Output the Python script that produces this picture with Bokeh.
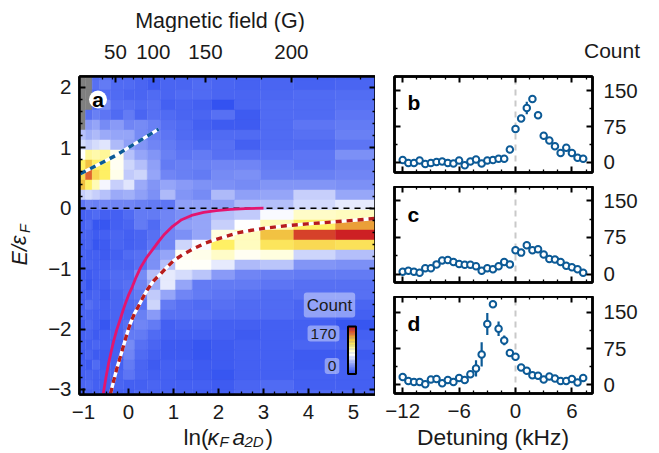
from bokeh.plotting import figure
from bokeh.layouts import row, column
from bokeh.models import (LinearAxis, FixedTicker, LinearColorMapper, Label, ColumnDataSource, Range1d)
from bokeh.transform import transform
from bokeh.embed import file_html
from bokeh.resources import INLINE

N = float("nan")
FONT = "Liberation Sans"

# ---- panel a: heat-map ----
x_edges = [-1.09, -0.956, -0.807, -0.638, -0.4, -0.104, 0.133, 0.416, 0.711, 1.044,
           1.416, 1.844, 2.362, 2.933, 3.673, 4.6, 5.49]
y_top = 2.29
y_step = 0.1656
counts = [
 [N,N,12,14,10,10,10,8,10,10,10,10,10,10,8,8],
 [N,N,14,18,12,12,10,6,10,10,12,10,9,10,9,10],
 [N,N,10,12,12,10,10,12,10,12,12,10,10,11,12,13],
 [N,N,12,24,14,14,12,14,8,10,8,3,10,12,12,14],
 [N,14,20,16,12,18,10,14,12,10,10,14,6,12,12,16],
 [N,30,34,24,30,22,24,20,14,12,8,6,6,12,16,18],
 [45,38,42,36,34,34,24,20,16,12,10,12,12,12,14,20],
 [55,50,55,58,42,32,28,22,18,14,12,14,8,12,12,16],
 [68,95,92,95,75,45,34,28,20,16,18,14,14,14,16,26],
 [105,125,105,105,72,52,44,32,18,20,20,22,22,18,16,20],
 [115,150,115,105,75,48,52,34,22,20,18,24,26,20,20,22],
 [125,105,90,65,50,58,36,28,34,30,27,26,24,28,28,26],
 [50,55,50,45,36,38,32,26,42,28,24,42,32,34,50,35],
 [16,22,20,22,22,22,20,18,16,32,32,32,42,44,54,60],
 [8,10,12,8,8,12,18,18,22,26,34,44,48,66,85,88],
 [8,12,4,4,8,10,18,12,22,32,34,50,68,90,105,135],
 [10,10,6,8,10,8,10,14,22,26,34,78,88,125,160,170],
 [8,10,4,6,10,8,10,16,22,52,66,105,88,110,115,112],
 [10,8,8,6,8,12,14,26,34,72,75,85,72,78,52,44],
 [8,10,8,8,10,10,14,26,44,70,70,60,42,46,28,26],
 [8,6,8,10,12,12,24,44,60,55,46,30,22,20,18,18],
 [10,4,8,8,12,14,22,36,60,34,18,18,18,16,14,14],
 [8,8,10,6,10,14,18,48,34,22,18,16,14,12,14,14],
 [8,14,10,8,10,12,14,52,18,14,12,14,12,12,10,10],
 [10,10,8,8,10,10,20,30,14,14,14,12,12,12,10,8],
 [6,12,8,4,10,14,22,18,8,10,10,8,8,8,8,4],
 [8,10,6,8,10,18,18,12,8,8,8,8,6,8,8,8],
 [8,8,10,8,8,24,14,10,6,6,4,6,8,8,10,10],
 [6,10,6,6,8,22,12,8,6,6,4,6,8,8,6,6],
 [8,6,12,6,8,18,10,6,8,8,6,6,8,8,6,8],
 [8,10,8,8,10,16,10,8,8,6,6,4,8,8,8,8],
 [10,12,8,8,10,8,8,10,8,8,8,6,10,12,8,8],
 [8,10,10,8,8,8,12,10,10,10,8,8,12,14,12,12],
]
bound_x = [-0.56,-0.50,-0.44,-0.38,-0.33,-0.26,-0.18,-0.12,-0.07,0.0,0.08,0.17,0.27,0.40,0.56,0.68,0.80,0.98,1.18,1.40,1.67,1.95,2.27,2.6,3.0]
bound_y = [-3.07,-2.80,-2.56,-2.36,-2.20,-2.01,-1.83,-1.69,-1.58,-1.44,-1.31,-1.14,-0.98,-0.82,-0.66,-0.54,-0.43,-0.30,-0.19,-0.12,-0.07,-0.04,-0.02,-0.008,0.0]
pol_x = [-0.40,-0.32,-0.25,-0.17,-0.10,-0.03,0.04,0.13,0.23,0.32,0.41,0.55,0.71,0.85,1.0,1.2,1.45,1.7,1.97,2.41,2.7,3.04,3.5,3.97,4.5,5.0,5.49]
pol_y = [-3.07,-2.83,-2.63,-2.43,-2.25,-2.07,-1.91,-1.75,-1.61,-1.48,-1.36,-1.21,-1.09,-0.98,-0.87,-0.77,-0.67,-0.58,-0.51,-0.41,-0.37,-0.33,-0.29,-0.26,-0.23,-0.20,-0.17]
rep_x = [-1.07, -0.29, 0.67]
rep_y = [0.57, 0.87, 1.31]
cbar_levels = list(range(0, 171, 5))

field_labels = {-0.29: "50", 0.55: "100", 1.71: "150", 3.62: "200"}
field_minor = [-0.58, -0.36, -0.13, 0.1, 0.32, 0.8, 1.03, 1.3, 1.96, 2.4, 2.95, 4.2, 5.15]

# ---- panels b, c, d ----
detuning = [-12.0, -11.4, -10.8, -10.2, -9.6, -9.0, -8.4, -7.8, -7.2, -6.6, -6.0, -5.4, -4.8, -4.2, -3.6, -3.0, -2.4,
            -1.8, -1.2, -0.6, 0.0, 0.6, 1.2, 1.8, 2.4, 3.0, 3.6, 4.2, 4.8, 5.4, 6.0, 6.6, 7.2]
b_vals = [5,-1,-1,4,-3,-1,1,2,-1,-2,4,-6,2,6,-2,4,5,8,8,27,70,92,114,133,99,56,46,34,20,31,20,10,8]
b_errs = [2,2,2,2,2,2,2,2,2,2,2,2,2,2,2,2,2,2,2,3,3,5,13,7,3,3,2,2,2,2,2,2,2]
c_vals = [5,7,5,3,12,12,20,28,29,25,21,19,19,16,7,12,10,16,25,20,49,44,59,49,51,40,31,30,25,17,14,10,3]
c_errs = [2,2,2,2,2,2,2,2,2,2,2,2,2,2,2,2,2,2,2,2,3,3,3,3,3,2,2,2,2,2,2,2,2]
d_vals = [16,8,6,6,1,11,12,3,10,6,14,10,22,34,63,126,167,116,92,66,58,36,29,20,19,11,17,13,8,8,12,5,14]
d_errs = [2,2,2,2,2,2,2,2,2,2,2,2,3,17,25,23,5,15,10,3,3,2,2,2,2,2,2,2,2,2,2,2,2]

BLUE = "#0c5a96"

anchors = [(0.0, (43, 75, 240)), (0.40, (255, 255, 255)), (0.52, (255, 252, 190)), (0.62, (255, 240, 100)),
           (0.76, (240, 185, 60)), (0.88, (224, 100, 48)), (1.0, (205, 32, 36))]
palette = []
for i in range(256):
    t = i / 255
    for (t0, c0), (t1, c1) in zip(anchors[:-1], anchors[1:]):
        if t0 <= t <= t1:
            f = (t - t0) / (t1 - t0)
            palette.append("#%02x%02x%02x" % tuple(int(round(a + (b - a) * f)) for a, b in zip(c0, c1)))
            break
mapper = LinearColorMapper(palette=palette, low=0, high=170, nan_color="#808080")

def style_axis(ax, major=6, minor=3, size="20.5px"):
    ax.axis_line_color = "black"
    ax.axis_line_width = 2.5
    ax.major_tick_line_color = "black"
    ax.major_tick_line_width = 2
    ax.minor_tick_line_color = "black"
    ax.minor_tick_line_width = 1.3
    ax.major_tick_in = major
    ax.major_tick_out = 0
    ax.minor_tick_in = minor
    ax.minor_tick_out = 0
    ax.major_label_text_font = FONT
    ax.major_label_text_font_size = size
    ax.major_label_text_color = "#1a1a1a"

def hide_labels(ax, ticks):
    ax.major_label_overrides = {t: "" for t in ticks}
    ax.major_label_text_font_size = "1px"
    ax.major_label_standoff = 0

def text(p, x, y, s, size=20.5, style="normal", align="center", base="middle", color="#1a1a1a", **kw):
    lab = Label(x=x, y=y, text=s, text_font=FONT, text_font_size=f"{size}px",
                text_font_style=style, text_align=align, text_baseline=base, text_color=color, **kw)
    p.add_layout(lab)
    return lab

def strip(w, h):
    s = figure(width=w, height=h, output_backend="svg", toolbar_location=None,
               x_range=Range1d(0, w), y_range=Range1d(h, 0), x_axis_type=None, y_axis_type=None,
               min_border=0, min_border_left=0, min_border_right=0, min_border_top=0, min_border_bottom=0,
               frame_align=False)
    s.grid.visible = False
    s.outline_line_color = None
    return s

# ---- layout constants (picture pixels) ----
FL, FT, FW, FH = 79, 76, 296, 318
SL = 40          # strip holding the y label
ST = 32          # strip holding the top title
SB = 28          # strip holding the x label
BOTTOM = 452
X0, XS = 128.0, 45.0
Y0, YS = 207.7, 60.4
X = lambda px: (px - X0) / XS
Y = lambda py: (Y0 - py) / YS

main = figure(frame_width=FW, frame_height=FH, output_backend="svg", toolbar_location=None,
              x_range=Range1d(X(FL), X(FL + FW)), y_range=Range1d(Y(FT + FH), Y(FT)),
              x_axis_type=None, y_axis_type=None,
              min_border_left=FL - SL, min_border_top=FT - ST, min_border_right=0,
              min_border_bottom=BOTTOM - SB - FT - FH)
main.grid.visible = False
main.outline_line_color = "black"
main.outline_line_width = 2.5

left, right, top_, bottom, value_ = [], [], [], [], []
for r, rowvals in enumerate(counts):
    for c, v in enumerate(rowvals):
        left.append(x_edges[c]); right.append(x_edges[c + 1])
        top_.append(y_top - r * y_step); bottom.append(y_top - (r + 1) * y_step)
        value_.append(v)
src = ColumnDataSource(dict(left=left, right=right, top=top_, bottom=bottom, v=value_))
main.quad(left="left", right="right", top="top", bottom="bottom", source=src,
          fill_color=transform("v", mapper), line_color=transform("v", mapper), line_width=0.4)

main.line([X(FL), X(FL + FW)], [0, 0], line_color="black", line_width=1.5, line_dash="6 5")
main.line(bound_x, bound_y, line_color="#e3156f", line_width=2.8)
main.line(pol_x, pol_y, line_color="white", line_width=3.4)
main.line(pol_x, pol_y, line_color="#b71c1c", line_width=3.4, line_dash="6 5")
main.line(rep_x, rep_y, line_color="white", line_width=3.4)
main.line(rep_x, rep_y, line_color=BLUE, line_width=3.4, line_dash="6 5")

xt = [-1, 0, 1, 2, 3, 4, 5]
xminor = [v / 4 for v in range(-4, 22) if v % 4]
ax_b = LinearAxis(ticker=FixedTicker(ticks=xt, minor_ticks=xminor),
                  major_label_overrides={-1: "\u22121", 0: "0", 1: "1", 2: "2", 3: "3", 4: "4", 5: "5"})
style_axis(ax_b)
ax_b.major_label_standoff = 10
main.add_layout(ax_b, "below")

yt = [-3, -2, -1, 0, 1, 2]
yminor = [v / 5 for v in range(-15, 11) if v % 5]
ax_l = LinearAxis(ticker=FixedTicker(ticks=yt, minor_ticks=yminor),
                  major_label_overrides={-3: "\u22123", -2: "\u22122", -1: "\u22121", 0: "0", 1: "1", 2: "2"})
style_axis(ax_l)
ax_l.major_label_standoff = 8
main.add_layout(ax_l, "left")

ax_r = LinearAxis(ticker=FixedTicker(ticks=yt, minor_ticks=yminor))
style_axis(ax_r); hide_labels(ax_r, yt)
main.add_layout(ax_r, "right")

ax_t = LinearAxis(ticker=FixedTicker(ticks=list(field_labels), minor_ticks=field_minor),
                  major_label_overrides=field_labels)
style_axis(ax_t)
ax_t.major_label_standoff = 18
main.add_layout(ax_t, "above")

cb_w0, cb_w1 = X(347.5), X(355.5)
cb_y0, cb_y1 = Y(373.5), Y(326.0)
n = len(cbar_levels)
dy = (cb_y1 - cb_y0) / n
main.quad(left=[cb_w0] * n, right=[cb_w1] * n,
          bottom=[cb_y0 + i * dy for i in range(n)], top=[cb_y0 + (i + 1) * dy for i in range(n)],
          fill_color=[palette[min(255, int(v / 170 * 255))] for v in cbar_levels],
          line_color=[palette[min(255, int(v / 170 * 255))] for v in cbar_levels], line_width=0.3)
main.quad(left=[cb_w0], right=[cb_w1], bottom=[cb_y0], top=[cb_y1], fill_color=None, line_color="black", line_width=2)

box = dict(background_fill_color="white", background_fill_alpha=0.4, border_radius=3)
text(main, X(329), Y(304.5), "Count", size=17, padding=3, **box)
text(main, X(323), Y(333), "170", size=15.5, padding=3, **box)
text(main, X(331.5), Y(365.5), "0", size=15.5, padding=3, **box)
main.scatter([X(97.5)], [Y(99)], size=18, marker="circle", fill_color="white", line_color=None)
text(main, X(97.5), Y(98.5), "a", size=21, style="bold", color="black")

# strips around panel a
s_left = strip(SL, BOTTOM)
text(s_left, 19, 250, "E/\u03b5", size=21.5, style="italic", angle=1.5708)
text(s_left, 24, 228, "F", size=14.5, style="italic", angle=1.5708)

s_top = strip(FL - SL + FW, ST)
text(s_top, 219.5 - SL, 20, "Magnetic field (G)", size=21.5)

s_bot = strip(FL - SL + FW, SB)
yb = 13
text(s_bot, 183 - SL, yb, "ln(", size=22.5, align="left")
text(s_bot, 207 - SL, yb, "\u03ba", size=22.5, style="italic", align="left")
text(s_bot, 219 - SL, yb + 4, "F", size=15, style="italic", align="left")
text(s_bot, 232 - SL, yb, "a", size=22.5, style="italic", align="left")
text(s_bot, 244 - SL, yb + 4, "2D", size=15, style="italic", align="left")
text(s_bot, 265 - SL, yb, ")", size=22.5, align="left")

# ---- side panels ----
PX0, PXS = 515.0, 9.4
PL, PW = 394, 198
PB_LEFT, PB_RIGHT = 19, 65
PST = 68         # strip above the panels

def panel(vals, errs, letter, letter_y, ylim, ftop, fh, bborder, show_x=False):
    yr = Range1d(*ylim)
    xr = Range1d((PL - PX0) / PXS, (PL + PW - PX0) / PXS)
    p = figure(frame_width=PW, frame_height=fh, output_backend="svg", toolbar_location=None,
               x_range=xr, y_range=yr, x_axis_type=None, y_axis_type=None,
               min_border_left=PB_LEFT, min_border_right=PB_RIGHT, min_border_top=ftop, min_border_bottom=bborder)
    p.grid.visible = False
    p.outline_line_color = "black"
    p.outline_line_width = 2.5
    p.line([0, 0], list(ylim), line_color="#c9c9c9", line_width=2, line_dash="6 5")
    lo = [v - e for v, e in zip(vals, errs)]
    hi = [v + e for v, e in zip(vals, errs)]
    p.segment(detuning, lo, detuning, hi, line_color=BLUE, line_width=2.2)
    p.scatter(detuning, vals, size=6.5, marker="circle", fill_color="white", line_color=BLUE, line_width=2)

    xticks = [-12, -6, 0, 6]
    xm = [v * 1.5 for v in range(-8, 6) if v % 4]
    a_bot = LinearAxis(ticker=FixedTicker(ticks=xticks, minor_ticks=xm),
                       major_label_overrides={-12: "\u221212", -6: "\u22126", 0: "0", 6: "6"})
    style_axis(a_bot)
    if show_x:
        a_bot.major_label_standoff = 10
    else:
        hide_labels(a_bot, xticks)
    p.add_layout(a_bot, "below")
    a_top = LinearAxis(ticker=FixedTicker(ticks=xticks, minor_ticks=xm))
    style_axis(a_top); hide_labels(a_top, xticks)
    p.add_layout(a_top, "above")
    yticks = [0, 75, 150]
    ym = [37.5, 112.5]
    a_r = LinearAxis(ticker=FixedTicker(ticks=yticks, minor_ticks=ym))
    style_axis(a_r)
    a_r.major_label_standoff = 11
    p.add_layout(a_r, "right")
    a_l = LinearAxis(ticker=FixedTicker(ticks=yticks, minor_ticks=ym))
    style_axis(a_l); hide_labels(a_l, yticks)
    p.add_layout(a_l, "left")
    text(p, -11.5, letter_y, letter, size=21, style="bold", color="black", align="left")
    return p

pb = panel(b_vals, b_errs, "b", 125, (-21, 180), FT - PST, 96, 14)
pc = panel(c_vals, c_errs, "c", 122, (-17, 179), 0, 96, 14)
pd_ = panel(d_vals, d_errs, "d", 127, (-18, 183), 0, 97, 30, show_x=True)

side_w = PB_LEFT + PW + PB_RIGHT
s_count = strip(side_w, PST)
text(s_count, 611.5 - 375, 50, "Count", size=21)
s_det = strip(side_w, 28)
text(s_det, 492.5 - 375, 13, "Detuning (kHz)", size=22.8)

page = row(s_left, column(s_top, main, s_bot), column(s_count, pb, pc, pd_, s_det))
open("out.html", "w").write(file_html(page, INLINE))
